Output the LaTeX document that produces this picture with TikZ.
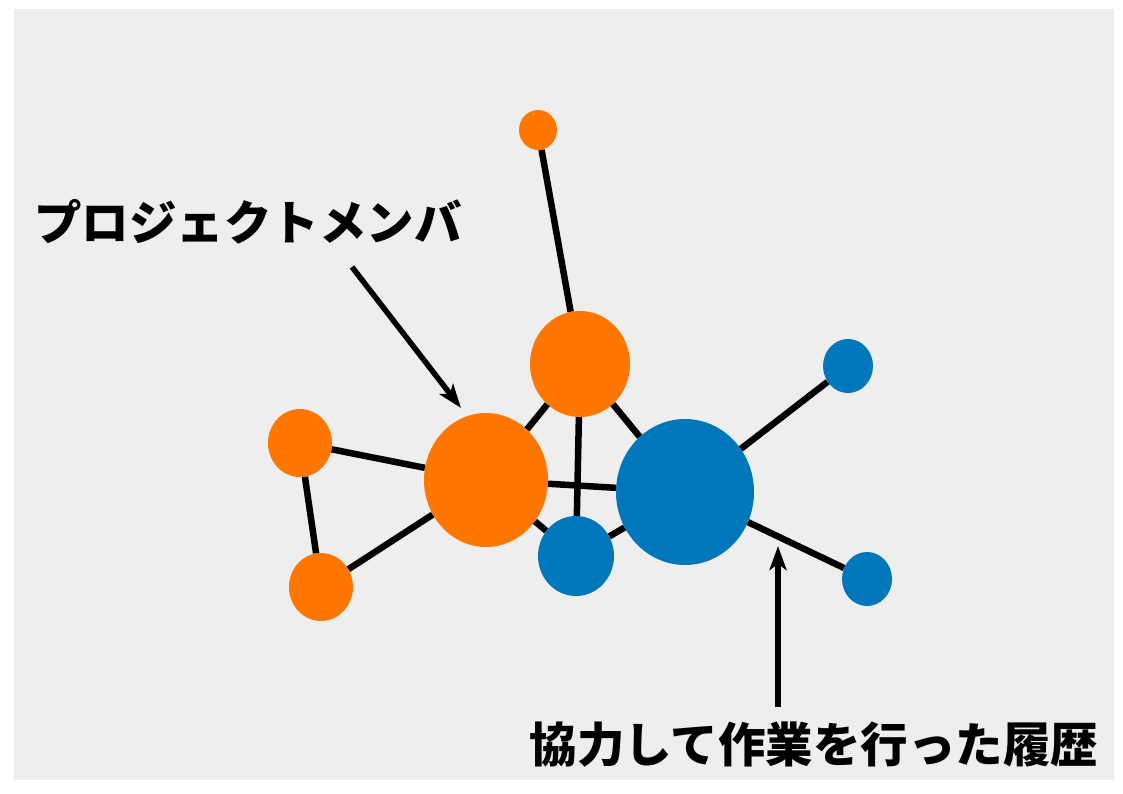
\documentclass[tikz,border=0pt]{standalone}
\usepackage{fontspec}
\newfontfamily\jp{Noto Sans CJK JP}
\usetikzlibrary{shapes.geometric,arrows.meta}
\definecolor{bg}{HTML}{EEEEEE}
\definecolor{orng}{HTML}{FF7700}
\definecolor{blu}{HTML}{0077BB}
\begin{document}
\begin{tikzpicture}[x=1pt,y=-1pt,
  member/.style={ellipse,inner sep=0pt,draw=none,fill=orng},
  record/.style={ellipse,inner sep=0pt,draw=none,fill=blu},
  link/.style={line width=6.5pt},
  callout/.style={line width=5.5pt,-{Stealth[length=24pt,width=17pt,inset=6pt]}},
  lbl/.style={font=\jp\bfseries\fontsize{47.5}{56}\selectfont,inner sep=0pt}]
\useasboundingbox (0,0) rectangle (1123,794);
\fill[white] (0,0) rectangle (1123,794);
\fill[bg] (14,9) rectangle (1114,780);
% nodes
\node[member,minimum width=38pt,minimum height=40pt] (ot) at (538,130) {};
\node[member,minimum width=100pt,minimum height=106pt] (oc) at (580,364) {};
\node[member,minimum width=124pt,minimum height=134pt] (om) at (486,480) {};
\node[member,minimum width=64pt,minimum height=68pt] (ol) at (300,443) {};
\node[member,minimum width=64pt,minimum height=68pt] (ob) at (321,587) {};
\node[record,minimum width=76pt,minimum height=80pt] (bs) at (576,556) {};
\node[record,minimum width=138pt,minimum height=146pt] (bb) at (685,492) {};
\node[record,minimum width=50pt,minimum height=54pt] (br) at (848,366) {};
\node[record,minimum width=50pt,minimum height=54pt] (bd) at (867,579) {};
% edges
\draw[link] (ot) -- (oc);
\draw[link] (oc) -- (om);
\draw[link] (oc) -- (bs);
\draw[link] (oc) -- (bb);
\draw[link] (ol) -- (om);
\draw[link] (ol) -- (ob);
\draw[link] (ob) -- (om);
\draw[link] (om) -- (bb);
\draw[link] (om) -- (bs);
\draw[link] (bs) -- (bb);
\draw[link] (bb) -- (br);
\draw[link] (bb) -- (bd);
% labels
\node[lbl] (t1) at (248,222) {プロジェクトメンバ};
\node[lbl] (t2) at (814,745) {協力して作業を行った履歴};
\coordinate (a1s) at (352,267);
\coordinate (a1e) at (461,408);
\coordinate (a2s) at (778,707);
\coordinate (a2e) at (778,546);
\draw[callout] (a1s) -- (a1e);
\draw[callout] (a2s) -- (a2e);
\end{tikzpicture}
\end{document}
